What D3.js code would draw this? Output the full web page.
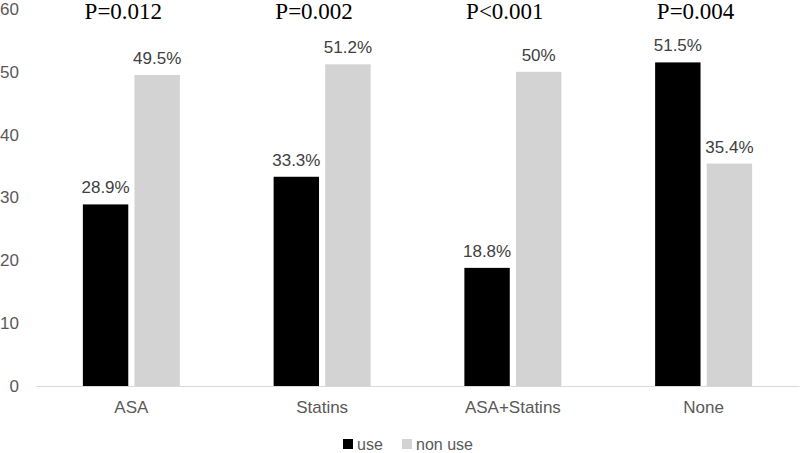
<!DOCTYPE html>
<html>
<head>
<meta charset="utf-8">
<script src="https://cdn.jsdelivr.net/npm/d3@7"></script>
<style>
  body { margin: 0; background: #fff; }
  svg { display: block; }
</style>
</head>
<body>
<div id="chart"></div>
<script>
const categories = ["ASA", "Statins", "ASA+Statins", "None"];
const seriesNames = ["use", "non use"];
const useValues = [28.9, 33.3, 18.8, 51.5];
const nonUseValues = [49.5, 51.2, 50, 35.4];
const valueLabels = [["28.9%", "49.5%"], ["33.3%", "51.2%"], ["18.8%", "50%"], ["51.5%", "35.4%"]];
const pLabels = ["P=0.012", "P=0.002", "P<0.001", "P=0.004"];
const yTicks = [0, 10, 20, 30, 40, 50, 60];

const width = 800, height = 453;
const colors = {"use": "#000000", "non use": "#d3d3d3"};
const sans = "'Helvetica Neue', Helvetica, 'Liberation Sans', Arial, sans-serif";

const svg = d3.select("#chart").append("svg")
  .attr("width", width)
  .attr("height", height);

var x = d3.scaleBand()
  .domain(categories)
  .range([36, 799]);

var x1 = d3.scaleBand()
  .domain(seriesNames)
  .range([0, 97])
  .paddingInner(0.12);

var y = d3.scaleLinear()
  .domain([0, 60])
  .range([386, 9]);

const data = categories.map(function(c, i) {
  return {
    category: c,
    values: [
      {series: "use", value: useValues[i], label: valueLabels[i][0]},
      {series: "non use", value: nonUseValues[i], label: valueLabels[i][1]}
    ]
  };
});

// y axis labels only, no line
const yAxis = d3.axisLeft(y).tickValues(yTicks).tickSize(0).tickPadding(0);
const gy = svg.append("g")
  .attr("transform", "translate(19,0)")
  .call(yAxis);
gy.select(".domain").remove();
gy.selectAll("text")
  .attr("fill", "#595959")
  .style("font-family", sans)
  .style("font-size", "17px");

// x axis
const xAxis = d3.axisBottom(x).tickSize(0).tickPadding(15);
const gx = svg.append("g")
  .attr("transform", "translate(0,386)")
  .call(xAxis);
gx.select(".domain").attr("stroke", "#d9d9d9").attr("stroke-width", 1.2);
gx.selectAll("text")
  .attr("fill", "#595959")
  .style("font-family", sans)
  .style("font-size", "17px");

const groups = svg.selectAll(".group")
  .data(data)
  .enter().append("g")
  .attr("class", "group")
  .attr("transform", function(d) {
    return "translate(" + (x(d.category) + x.bandwidth() / 2 - 48.5) + ",0)";
  });

groups.selectAll("rect")
  .data(function(d) { return d.values; })
  .enter().append("rect")
  .attr("x", function(d) { return x1(d.series); })
  .attr("y", function(d) { return y(d.value); })
  .attr("width", x1.bandwidth())
  .attr("height", function(d) { return y(0) - y(d.value); })
  .attr("fill", function(d) { return colors[d.series]; });

groups.selectAll(".label")
  .data(function(d) { return d.values; })
  .enter().append("text")
  .attr("class", "label")
  .attr("x", function(d) { return x1(d.series) + x1.bandwidth() / 2; })
  .attr("y", function(d) { return y(d.value) - 11; })
  .attr("text-anchor", "middle")
  .attr("fill", "#404040")
  .style("font-family", sans)
  .style("font-size", "17px")
  .text(function(d) { return d.label; });

// p-values above each group
svg.selectAll(".pval")
  .data(categories)
  .enter().append("text")
  .attr("class", "pval")
  .attr("x", function(d) { return x(d) + x.bandwidth() / 2 - 8; })
  .attr("y", 19)
  .attr("text-anchor", "middle")
  .attr("fill", "#000")
  .style("font-family", "'Times New Roman', 'Liberation Serif', serif")
  .style("font-size", "23px")
  .text(function(d, i) { return pLabels[i]; });

// legend
const legend = svg.append("g").attr("transform", "translate(343,439)");
const legendX = [0, 59];
seriesNames.forEach(function(s, i) {
  legend.append("rect")
    .attr("x", legendX[i])
    .attr("y", 0)
    .attr("width", 10)
    .attr("height", 10)
    .attr("fill", colors[s]);
  legend.append("text")
    .attr("x", legendX[i] + 14)
    .attr("y", 5)
    .attr("dy", "0.35em")
    .attr("fill", "#595959")
    .style("font-family", sans)
    .style("font-size", "16px")
    .text(s);
});
</script>
</body>
</html>
